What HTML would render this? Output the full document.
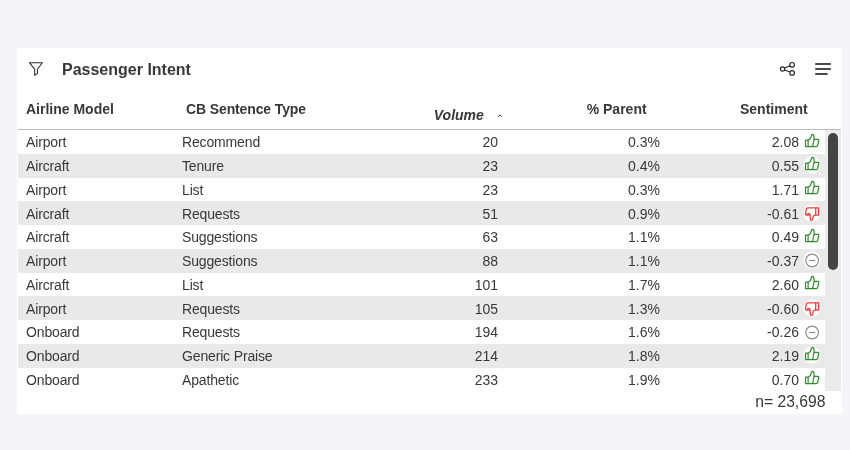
<!DOCTYPE html>
<html><head><meta charset="utf-8"><title>Passenger Intent</title>
<style>
html,body{margin:0;padding:0;}
body{-webkit-font-smoothing:antialiased;width:850px;height:450px;background:#f5f5f7;position:relative;overflow:hidden;font-family:"Liberation Sans",Arial,sans-serif;color:#383838;}
.card{position:absolute;left:17px;top:48px;width:825px;height:366px;background:#fff;}
.title{position:absolute;left:62px;top:59.5px;font-size:16px;font-weight:bold;line-height:20px;color:#383838;white-space:nowrap;}
.hd{position:absolute;top:99px;font-size:14px;font-weight:bold;line-height:20px;white-space:nowrap;color:#383838;}
.hline{position:absolute;left:18px;top:129px;width:823px;height:1px;background:#bcbcbc;}
.tbody{position:absolute;left:18px;top:130px;width:807px;}
.row{position:relative;height:23.76px;line-height:23.76px;font-size:14px;white-space:nowrap;}
.row.alt{background:#e9e9e9;}
.row span{position:absolute;top:1.4px;}
.c1{left:8px;letter-spacing:-0.15px;}
.c2{left:164px;letter-spacing:-0.15px;}
.c3{right:327px;}
.c4{right:165px;}
.c5{right:26px;}
.ic{position:absolute;left:784.2px;top:1.5px;}
.track{position:absolute;left:825px;top:130px;width:16px;height:261.4px;background:#ebebeb;}
.thumb{position:absolute;left:828px;top:133px;width:10px;height:137px;border-radius:5px;background:#444;}
.nval{position:absolute;right:24.6px;top:392.3px;font-size:15.7px;line-height:20px;white-space:nowrap;color:#383838;}
#wrap{position:absolute;left:0;top:0;width:850px;height:450px;will-change:transform;}
</style></head><body><div id="wrap">
<div class="card"></div>
<svg width="0" height="0" style="position:absolute"><defs><radialGradient id="hg"><stop offset="0.82" stop-color="#fff" stop-opacity="1"/><stop offset="1" stop-color="#fff" stop-opacity="0"/></radialGradient></defs></svg>
<svg style="position:absolute;left:0;top:0" width="850" height="130">
<path d="M29.5 62.8 L42.3 62.8 L37.5 69.2 L37.5 73.4 L34.7 75.2 L34.7 69.2 Z" fill="none" stroke="#2a2a2a" stroke-width="1.05" stroke-linejoin="round"/>
<g fill="none" stroke="#2a2a2a" stroke-width="1.2">
<circle cx="782.6" cy="69" r="2.2"/><circle cx="792.1" cy="64.8" r="2.3"/><circle cx="792.1" cy="72.9" r="2.3"/>
<path d="M784.6 68 L790 65.8 M784.6 70 L790 72"/>
</g>
<g stroke="#4a4a4a" stroke-width="1.8" stroke-linecap="round">
<path d="M815.9 64 H830.2 M815.9 69 H830.2 M815.9 74 H827"/>
</g>
<path d="M497.9 116.6 L500.2 115.2 L501.7 116.6" fill="none" stroke="#333" stroke-width="1"/>
</svg>
<div class="title">Passenger Intent</div>
<div class="hd" style="left:26px">Airline Model</div>
<div class="hd" style="left:186px;letter-spacing:-0.12px">CB Sentence Type</div>
<div class="hd" style="left:433.8px;top:105px;font-style:italic">Volume</div>
<div class="hd" style="left:586.7px">% Parent</div>
<div class="hd" style="left:740px">Sentiment</div>
<div class="hline"></div>
<div class="tbody">
<div class="row"><span class="c1">Airport</span><span class="c2">Recommend</span><span class="c3">20</span><span class="c4">0.3%</span><span class="c5">2.08</span><svg class="ic" width="20" height="20" viewBox="0 0 20 20"><circle cx="10" cy="10" r="9.2" fill="url(#hg)"/><g fill="none" stroke="#2e8b2e" stroke-width="1.2" stroke-linejoin="round" stroke-linecap="round"><rect x="3.5" y="8.1" width="2.6" height="6.45" rx="0.4"/><path d="M6.1 8.3 L8.4 6.6 L9.5 3.2 Q9.9 2.35 10.7 2.35 Q11.7 2.45 11.8 3.4 L12.2 7.4 L15.9 7.4 Q17.1 7.6 16.7 8.9 L15.5 13.8 Q15.2 14.55 14.3 14.55 L6.1 14.55"/><path d="M12.1 7.3 L10.6 14.45"/></g></svg></div>
<div class="row alt"><span class="c1">Aircraft</span><span class="c2">Tenure</span><span class="c3">23</span><span class="c4">0.4%</span><span class="c5">0.55</span><svg class="ic" width="20" height="20" viewBox="0 0 20 20"><circle cx="10" cy="10" r="9.2" fill="url(#hg)"/><g fill="none" stroke="#2e8b2e" stroke-width="1.2" stroke-linejoin="round" stroke-linecap="round"><rect x="3.5" y="8.1" width="2.6" height="6.45" rx="0.4"/><path d="M6.1 8.3 L8.4 6.6 L9.5 3.2 Q9.9 2.35 10.7 2.35 Q11.7 2.45 11.8 3.4 L12.2 7.4 L15.9 7.4 Q17.1 7.6 16.7 8.9 L15.5 13.8 Q15.2 14.55 14.3 14.55 L6.1 14.55"/><path d="M12.1 7.3 L10.6 14.45"/></g></svg></div>
<div class="row"><span class="c1">Airport</span><span class="c2">List</span><span class="c3">23</span><span class="c4">0.3%</span><span class="c5">1.71</span><svg class="ic" width="20" height="20" viewBox="0 0 20 20"><circle cx="10" cy="10" r="9.2" fill="url(#hg)"/><g fill="none" stroke="#2e8b2e" stroke-width="1.2" stroke-linejoin="round" stroke-linecap="round"><rect x="3.5" y="8.1" width="2.6" height="6.45" rx="0.4"/><path d="M6.1 8.3 L8.4 6.6 L9.5 3.2 Q9.9 2.35 10.7 2.35 Q11.7 2.45 11.8 3.4 L12.2 7.4 L15.9 7.4 Q17.1 7.6 16.7 8.9 L15.5 13.8 Q15.2 14.55 14.3 14.55 L6.1 14.55"/><path d="M12.1 7.3 L10.6 14.45"/></g></svg></div>
<div class="row alt"><span class="c1">Aircraft</span><span class="c2">Requests</span><span class="c3">51</span><span class="c4">0.9%</span><span class="c5">-0.61</span><svg class="ic" width="20" height="20" viewBox="0 0 20 20"><circle cx="10" cy="10" r="9.2" fill="url(#hg)"/><g fill="none" stroke="#f23c3c" stroke-width="1.3" stroke-linejoin="round" stroke-linecap="round"><rect x="13.7" y="4.8" width="2.95" height="7.4" rx="0.4"/><path d="M13.7 4.8 L5.6 4.8 Q4.6 4.8 4.4 5.8 L3.5 10.6 Q3.4 12.2 4.8 12.2 L7.9 12.2 L8.4 16.5 Q8.8 17.4 9.7 17.3 Q10.6 17.1 10.8 16.2 L11.2 13.2 L13.7 11.6"/><path d="M5.0 11.2 Q6.4 10.0 7.8 10.9 L7.9 12.2"/></g></svg></div>
<div class="row"><span class="c1">Aircraft</span><span class="c2">Suggestions</span><span class="c3">63</span><span class="c4">1.1%</span><span class="c5">0.49</span><svg class="ic" width="20" height="20" viewBox="0 0 20 20"><circle cx="10" cy="10" r="9.2" fill="url(#hg)"/><g fill="none" stroke="#2e8b2e" stroke-width="1.2" stroke-linejoin="round" stroke-linecap="round"><rect x="3.5" y="8.1" width="2.6" height="6.45" rx="0.4"/><path d="M6.1 8.3 L8.4 6.6 L9.5 3.2 Q9.9 2.35 10.7 2.35 Q11.7 2.45 11.8 3.4 L12.2 7.4 L15.9 7.4 Q17.1 7.6 16.7 8.9 L15.5 13.8 Q15.2 14.55 14.3 14.55 L6.1 14.55"/><path d="M12.1 7.3 L10.6 14.45"/></g></svg></div>
<div class="row alt"><span class="c1">Airport</span><span class="c2">Suggestions</span><span class="c3">88</span><span class="c4">1.1%</span><span class="c5">-0.37</span><svg class="ic" width="20" height="20" viewBox="0 0 20 20"><circle cx="10" cy="10" r="9.2" fill="url(#hg)"/><circle cx="10.15" cy="10.5" r="6.35" fill="none" stroke="#8a8a8a" stroke-width="1.15"/><path d="M7.2 10.5 H13.3" stroke="#8a8a8a" stroke-width="1.15"/></svg></div>
<div class="row"><span class="c1">Aircraft</span><span class="c2">List</span><span class="c3">101</span><span class="c4">1.7%</span><span class="c5">2.60</span><svg class="ic" width="20" height="20" viewBox="0 0 20 20"><circle cx="10" cy="10" r="9.2" fill="url(#hg)"/><g fill="none" stroke="#2e8b2e" stroke-width="1.2" stroke-linejoin="round" stroke-linecap="round"><rect x="3.5" y="8.1" width="2.6" height="6.45" rx="0.4"/><path d="M6.1 8.3 L8.4 6.6 L9.5 3.2 Q9.9 2.35 10.7 2.35 Q11.7 2.45 11.8 3.4 L12.2 7.4 L15.9 7.4 Q17.1 7.6 16.7 8.9 L15.5 13.8 Q15.2 14.55 14.3 14.55 L6.1 14.55"/><path d="M12.1 7.3 L10.6 14.45"/></g></svg></div>
<div class="row alt"><span class="c1">Airport</span><span class="c2">Requests</span><span class="c3">105</span><span class="c4">1.3%</span><span class="c5">-0.60</span><svg class="ic" width="20" height="20" viewBox="0 0 20 20"><circle cx="10" cy="10" r="9.2" fill="url(#hg)"/><g fill="none" stroke="#f23c3c" stroke-width="1.3" stroke-linejoin="round" stroke-linecap="round"><rect x="13.7" y="4.8" width="2.95" height="7.4" rx="0.4"/><path d="M13.7 4.8 L5.6 4.8 Q4.6 4.8 4.4 5.8 L3.5 10.6 Q3.4 12.2 4.8 12.2 L7.9 12.2 L8.4 16.5 Q8.8 17.4 9.7 17.3 Q10.6 17.1 10.8 16.2 L11.2 13.2 L13.7 11.6"/><path d="M5.0 11.2 Q6.4 10.0 7.8 10.9 L7.9 12.2"/></g></svg></div>
<div class="row"><span class="c1">Onboard</span><span class="c2">Requests</span><span class="c3">194</span><span class="c4">1.6%</span><span class="c5">-0.26</span><svg class="ic" width="20" height="20" viewBox="0 0 20 20"><circle cx="10" cy="10" r="9.2" fill="url(#hg)"/><circle cx="10.15" cy="10.5" r="6.35" fill="none" stroke="#8a8a8a" stroke-width="1.15"/><path d="M7.2 10.5 H13.3" stroke="#8a8a8a" stroke-width="1.15"/></svg></div>
<div class="row alt"><span class="c1">Onboard</span><span class="c2">Generic Praise</span><span class="c3">214</span><span class="c4">1.8%</span><span class="c5">2.19</span><svg class="ic" width="20" height="20" viewBox="0 0 20 20"><circle cx="10" cy="10" r="9.2" fill="url(#hg)"/><g fill="none" stroke="#2e8b2e" stroke-width="1.2" stroke-linejoin="round" stroke-linecap="round"><rect x="3.5" y="8.1" width="2.6" height="6.45" rx="0.4"/><path d="M6.1 8.3 L8.4 6.6 L9.5 3.2 Q9.9 2.35 10.7 2.35 Q11.7 2.45 11.8 3.4 L12.2 7.4 L15.9 7.4 Q17.1 7.6 16.7 8.9 L15.5 13.8 Q15.2 14.55 14.3 14.55 L6.1 14.55"/><path d="M12.1 7.3 L10.6 14.45"/></g></svg></div>
<div class="row"><span class="c1">Onboard</span><span class="c2">Apathetic</span><span class="c3">233</span><span class="c4">1.9%</span><span class="c5">0.70</span><svg class="ic" width="20" height="20" viewBox="0 0 20 20"><circle cx="10" cy="10" r="9.2" fill="url(#hg)"/><g fill="none" stroke="#2e8b2e" stroke-width="1.2" stroke-linejoin="round" stroke-linecap="round"><rect x="3.5" y="8.1" width="2.6" height="6.45" rx="0.4"/><path d="M6.1 8.3 L8.4 6.6 L9.5 3.2 Q9.9 2.35 10.7 2.35 Q11.7 2.45 11.8 3.4 L12.2 7.4 L15.9 7.4 Q17.1 7.6 16.7 8.9 L15.5 13.8 Q15.2 14.55 14.3 14.55 L6.1 14.55"/><path d="M12.1 7.3 L10.6 14.45"/></g></svg></div>
</div>
<div class="track"></div>
<div class="thumb"></div>
<div class="nval">n= 23,698</div>
</div></body></html>
